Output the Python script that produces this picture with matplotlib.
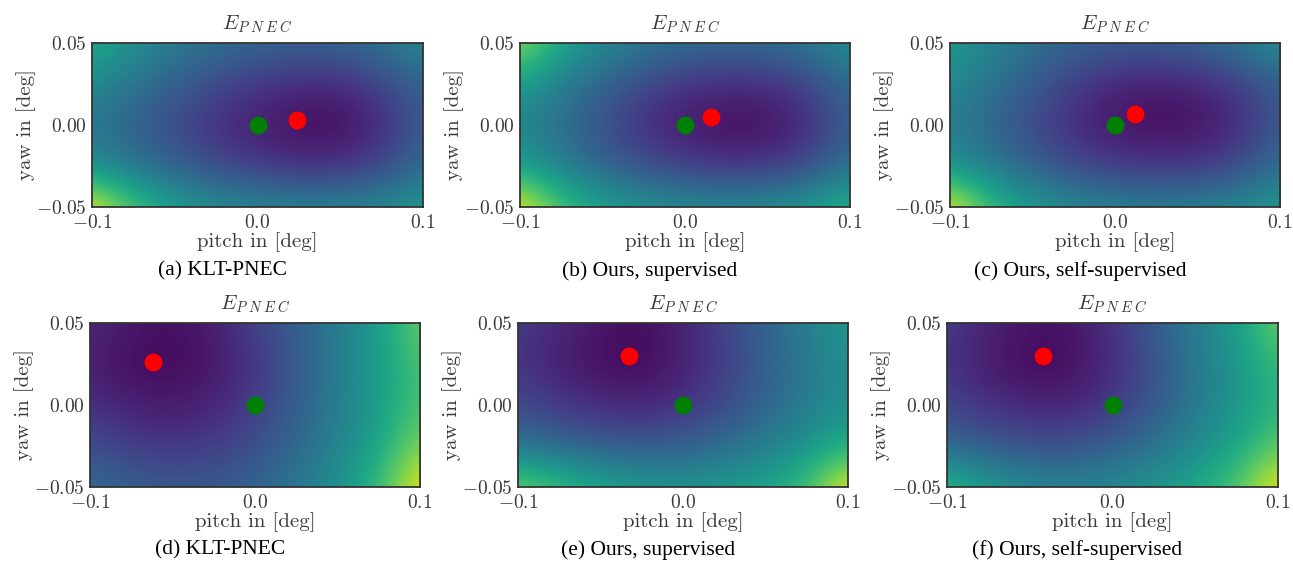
import matplotlib
matplotlib.use("Agg")
import matplotlib.pyplot as plt
import numpy as np

plt.rcParams['font.family'] = 'serif'
plt.rcParams['font.serif'] = ['cmr10']
plt.rcParams['mathtext.fontset'] = 'cm'
plt.rcParams['axes.formatter.use_mathtext'] = True

# energy (0 = dark purple, 1 = yellow)
# rows: yaw 0.05, 0.025, 0, -0.025, -0.05; cols: pitch -0.1 .. 0.1 in steps of 0.025
E_a = [[0.62, 0.50, 0.42, 0.37, 0.33, 0.32, 0.33, 0.38, 0.47],
       [0.48, 0.38, 0.30, 0.22, 0.16, 0.12, 0.12, 0.20, 0.32],
       [0.38, 0.30, 0.22, 0.13, 0.07, 0.03, 0.02, 0.12, 0.28],
       [0.48, 0.38, 0.30, 0.22, 0.17, 0.13, 0.14, 0.20, 0.35],
       [1.00, 0.72, 0.57, 0.50, 0.47, 0.46, 0.46, 0.48, 0.55]]
E_b = [[0.85, 0.60, 0.47, 0.40, 0.36, 0.35, 0.36, 0.40, 0.50],
       [0.55, 0.42, 0.32, 0.22, 0.15, 0.12, 0.13, 0.20, 0.35],
       [0.45, 0.35, 0.24, 0.13, 0.06, 0.03, 0.03, 0.12, 0.30],
       [0.55, 0.42, 0.32, 0.24, 0.18, 0.15, 0.16, 0.22, 0.38],
       [1.00, 0.72, 0.58, 0.52, 0.50, 0.48, 0.50, 0.55, 0.65]]
E_c = [[0.55, 0.45, 0.38, 0.32, 0.30, 0.30, 0.33, 0.40, 0.50],
       [0.48, 0.38, 0.28, 0.18, 0.10, 0.08, 0.10, 0.18, 0.30],
       [0.42, 0.32, 0.22, 0.12, 0.05, 0.03, 0.04, 0.12, 0.28],
       [0.50, 0.40, 0.30, 0.22, 0.17, 0.15, 0.16, 0.22, 0.36],
       [1.00, 0.68, 0.55, 0.48, 0.45, 0.44, 0.45, 0.48, 0.55]]
E_d = [[0.12, 0.06, 0.04, 0.08, 0.20, 0.30, 0.42, 0.55, 0.78],
       [0.08, 0.03, 0.02, 0.06, 0.15, 0.28, 0.42, 0.55, 0.72],
       [0.14, 0.08, 0.07, 0.10, 0.18, 0.30, 0.42, 0.55, 0.72],
       [0.24, 0.18, 0.16, 0.18, 0.24, 0.33, 0.45, 0.58, 0.82],
       [0.35, 0.30, 0.28, 0.28, 0.32, 0.40, 0.50, 0.68, 1.00]]
E_e = [[0.18, 0.12, 0.06, 0.03, 0.10, 0.20, 0.32, 0.42, 0.55],
       [0.15, 0.08, 0.03, 0.02, 0.08, 0.18, 0.30, 0.40, 0.50],
       [0.22, 0.16, 0.12, 0.10, 0.14, 0.22, 0.32, 0.42, 0.50],
       [0.38, 0.33, 0.30, 0.28, 0.30, 0.35, 0.42, 0.50, 0.62],
       [0.80, 0.70, 0.60, 0.55, 0.52, 0.55, 0.58, 0.70, 1.00]]
E_f = [[0.18, 0.10, 0.05, 0.05, 0.15, 0.28, 0.42, 0.55, 0.78],
       [0.15, 0.07, 0.02, 0.03, 0.12, 0.25, 0.40, 0.52, 0.68],
       [0.20, 0.14, 0.10, 0.10, 0.16, 0.27, 0.40, 0.52, 0.65],
       [0.33, 0.28, 0.25, 0.25, 0.30, 0.37, 0.47, 0.58, 0.75],
       [0.68, 0.55, 0.48, 0.45, 0.48, 0.52, 0.60, 0.72, 1.00]]

# estimated (red) and ground truth (green) rotation, [pitch, yaw]
est = [[0.024, 0.003], [0.016, 0.005], [0.012, 0.007],
       [-0.062, 0.026], [-0.033, 0.030], [-0.042, 0.030]]
gt = [0.0, 0.0]

captions = ['(a) KLT-PNEC', '(b) Ours, supervised', '(c) Ours, self-supervised',
            '(d) KLT-PNEC', '(e) Ours, supervised', '(f) Ours, self-supervised']
energies = [E_a, E_b, E_c, E_d, E_e, E_f]

W, H = 1293, 563
fig = plt.figure(figsize=(W/100, H/100), dpi=100)

# axes boxes in pixels: left, right, top, bottom
boxes = [(92, 423, 43, 207), (520, 850, 43, 207), (950, 1280, 43, 207),
         (90, 420, 323, 487), (518, 848, 323, 487), (947, 1278, 323, 487)]
cap_y = [271, 271, 271, 550, 550, 550]
hx, hy = 0.0125, 0.0125  # half grid step, so grid points sit on the edges

for i in range(6):
    l, r, t, b = boxes[i]
    ax = fig.add_axes([l/W, 1-b/H, (r-l)/W, (b-t)/H])
    ax.imshow(np.array(energies[i]), cmap='viridis',
              extent=[-0.1-hx, 0.1+hx, -0.05-hy, 0.05+hy],
              interpolation='bicubic', aspect='auto', vmin=0, vmax=1)
    ax.scatter(gt[0], gt[1], s=140, color='green', zorder=3)
    ax.scatter(est[i][0], est[i][1], s=140, color='red', zorder=3)
    ax.set_xlim(-0.1, 0.1)
    ax.set_ylim(-0.05, 0.05)
    ax.set_xticks([-0.1, 0.0, 0.1])
    ax.set_yticks([-0.05, 0.0, 0.05])
    ax.set_xticklabels(['$-0.1$', '$0.0$', '$0.1$'])
    ax.set_yticklabels(['$-0.05$', '$0.00$', '$0.05$'])
    ax.tick_params(length=0, labelsize=14, pad=4, colors='#3a3a3a')
    ax.tick_params(axis='x', pad=5)
    for s in ax.spines.values():
        s.set_color('#333333')
        s.set_linewidth(1.3)
    ax.set_xlabel('pitch in [deg]', fontsize=15, color='#3a3a3a', labelpad=0)
    ax.set_ylabel('yaw in [deg]', fontsize=15, color='#3a3a3a', labelpad=0)
    ax.set_title(r'$E_{P\;N\;E\;C}$', fontsize=15, color='#3a3a3a', pad=10)
    # sub-captions are centred on the whole subfigure, incl. the y label
    fig.text(((l+r)/2 - 35)/W, 1-cap_y[i]/H, captions[i], ha='center', va='center',
             fontsize=15.5, family='Liberation Serif')

fig.savefig('out.png', dpi=100)
